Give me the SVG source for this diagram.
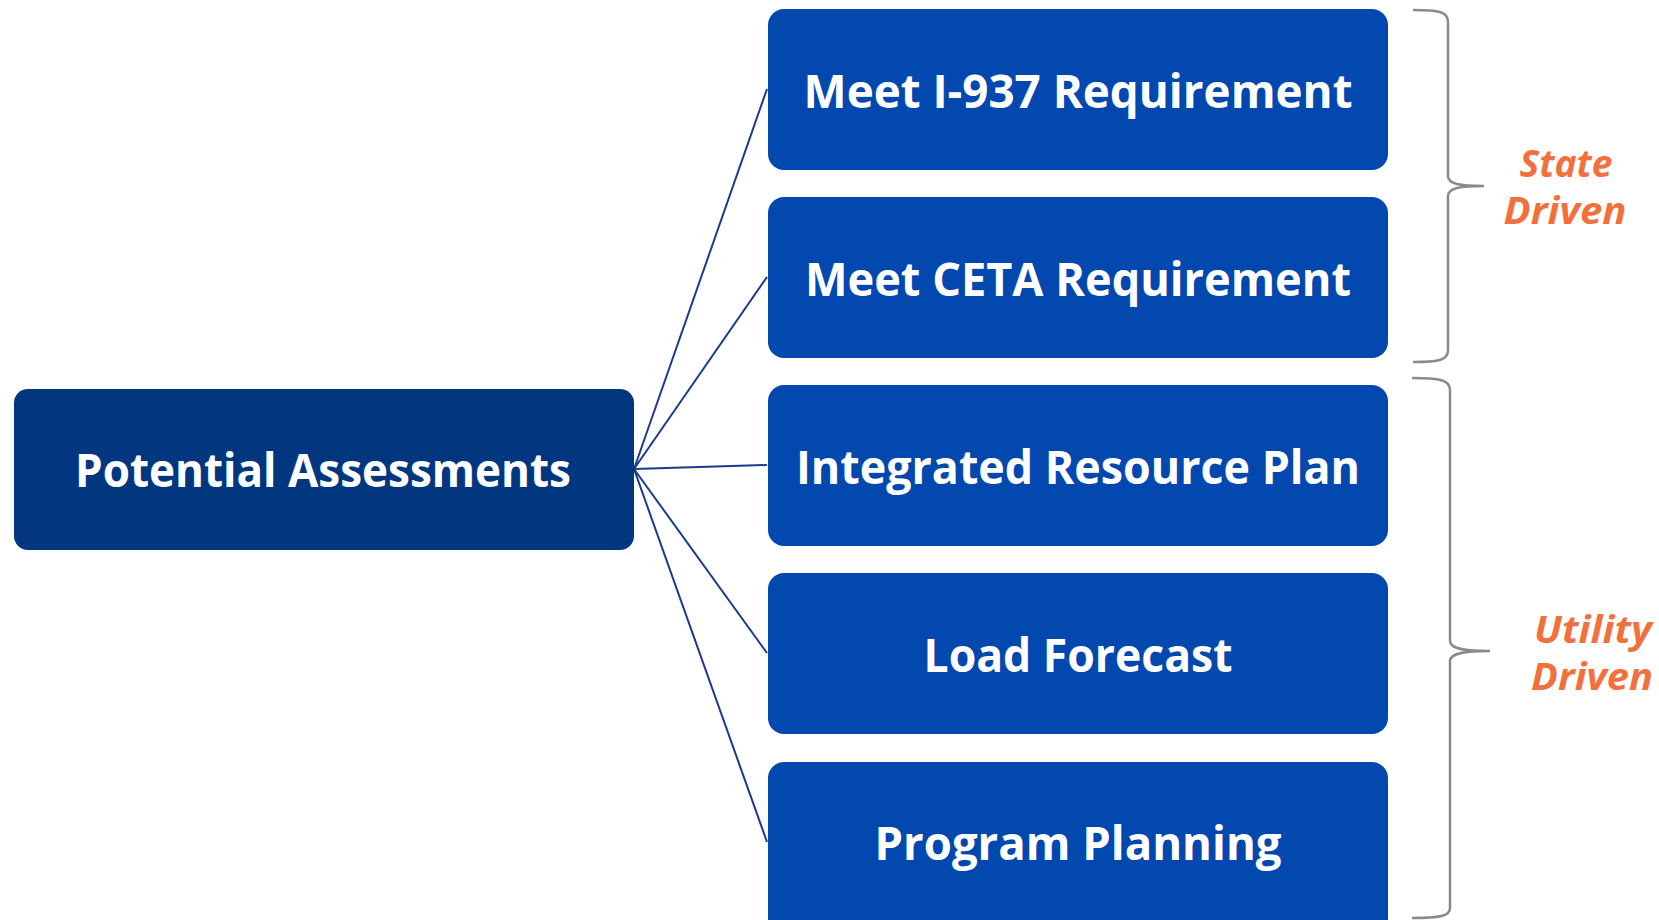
<svg xmlns="http://www.w3.org/2000/svg" width="1659" height="920" viewBox="0 0 1659 920">
<style>
.root{fill:#02367F}
.box{fill:#0348AE}
.t{font-family:"Open Sans","Noto Sans","Liberation Sans",sans-serif;font-weight:700;fill:#fff;text-anchor:middle;font-size:46px}
.conn{stroke:#1A3A8A;stroke-width:2;fill:none}
.brace{stroke:#8A8A8A;stroke-width:2.5;fill:none}
.lbl{font-family:"Open Sans","Noto Sans","Liberation Sans",sans-serif;font-weight:700;font-style:italic;fill:#F2703C;text-anchor:middle;font-size:38px}
</style>
<rect width="1659" height="920" fill="#fff"/>
<g id="connectors">
<line class="conn" x1="634" y1="469" x2="767" y2="89"/>
<line class="conn" x1="634" y1="469" x2="767" y2="277"/>
<line class="conn" x1="634" y1="469" x2="767" y2="465"/>
<line class="conn" x1="634" y1="469" x2="767" y2="653"/>
<line class="conn" x1="634" y1="469" x2="767" y2="842"/>
</g>
<g id="node-root">
<rect class="root" x="14" y="389" width="620" height="161" rx="14"/>
<text class="t" x="323" y="487" textLength="496" lengthAdjust="spacingAndGlyphs">Potential Assessments</text>
</g>
<g id="node-i937">
<rect class="box" x="768" y="9" width="620" height="161" rx="16"/>
<text class="t" x="1078" y="108" textLength="549" lengthAdjust="spacingAndGlyphs">Meet I-937 Requirement</text>
</g>
<g id="node-ceta">
<rect class="box" x="768" y="197" width="620" height="161" rx="16"/>
<text class="t" x="1078" y="296" textLength="546" lengthAdjust="spacingAndGlyphs">Meet CETA Requirement</text>
</g>
<g id="node-irp">
<rect class="box" x="768" y="385" width="620" height="161" rx="16"/>
<text class="t" x="1078" y="484" textLength="564" lengthAdjust="spacingAndGlyphs">Integrated Resource Plan</text>
</g>
<g id="node-load">
<rect class="box" x="768" y="573" width="620" height="161" rx="16"/>
<text class="t" x="1078" y="672" textLength="309" lengthAdjust="spacingAndGlyphs">Load Forecast</text>
</g>
<g id="node-program">
<rect class="box" x="768" y="762" width="620" height="175" rx="16"/>
<text class="t" x="1078" y="860" textLength="407" lengthAdjust="spacingAndGlyphs">Program Planning</text>
</g>
<g id="brace-state">
<path class="brace" d="M1413,10 C1440,10 1448,12 1448,22 L1448,176 C1448,184 1460,186 1484,186 C1460,186 1448,188 1448,196 L1448,350 C1448,360 1440,362 1413,362"/>
<text class="lbl" x="1566" y="177" textLength="93" lengthAdjust="spacingAndGlyphs">State</text>
<text class="lbl" x="1565" y="224" textLength="123" lengthAdjust="spacingAndGlyphs">Driven</text>
</g>
<g id="brace-utility">
<path class="brace" d="M1412,378 C1440,378 1450,380 1450,390 L1450,641 C1450,649 1465,651 1490,651 C1465,651 1450,653 1450,661 L1450,908 C1450,916 1440,918 1412,918"/>
<text class="lbl" x="1593" y="643" textLength="118" lengthAdjust="spacingAndGlyphs">Utility</text>
<text class="lbl" x="1592" y="690" textLength="122" lengthAdjust="spacingAndGlyphs">Driven</text>
</g>
</svg>
